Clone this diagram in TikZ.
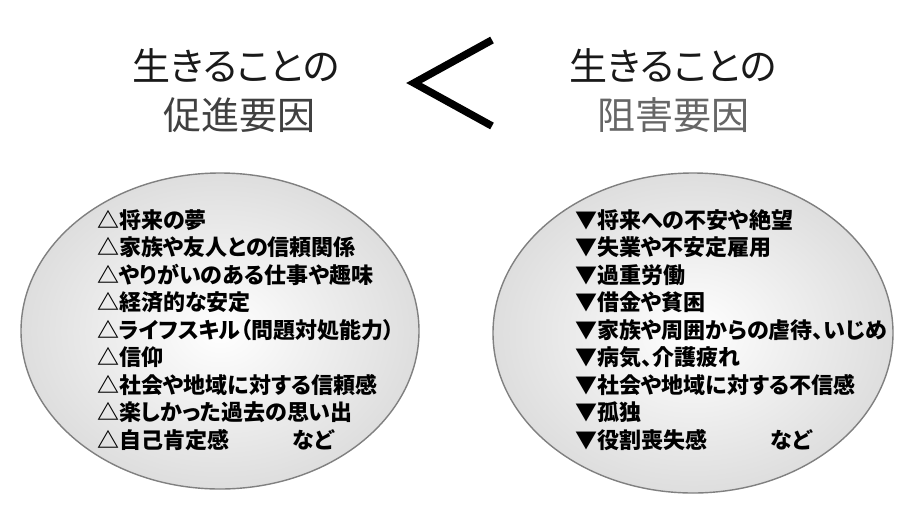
\documentclass[tikz,border=0pt]{standalone}
\usepackage{fontspec}
\newfontfamily\jpfont{Noto Sans CJK JP}[RawFeature=+palt]
\begin{document}
\begin{tikzpicture}[x=1pt,y=-1pt,
 heading/.style={font=\jpfont\fontsize{38}{38}\selectfont,inner sep=0pt},
 item/.style={font=\jpfont\bfseries\fontsize{22}{22}\selectfont,anchor=base west,inner sep=0pt},
 factor/.style={draw=black!50,line width=1.4pt,inner color=white,outer color=black!13}]
 \useasboundingbox (0,0) rectangle (922,515);
 \fill[white] (0,0) rectangle (922,515);
 % headings
 \node[heading,text=black!90] (promTitle) at (236,65) {生きることの};
 \node[heading,text=black!75] (promLabel) at (239,115) {促進要因};
 \node[heading,text=black!90] (inhTitle) at (673,65) {生きることの};
 \node[heading,text=black!60] (inhLabel) at (673,115) {阻害要因};
 \draw[line width=7.5pt] (492,40)--(414,83)--(492,126);
 % ellipses
 \shade[factor] (220,331) ellipse [x radius=199, y radius=158];
 \shade[factor] (693,333) ellipse [x radius=200, y radius=160];
 \foreach \t [count=\i] in {{△将来の夢},{△家族や友人との信頼関係},{△やりがいのある仕事や趣味},
   {△経済的な安定},{△ライフスキル（問題対処能力）},{△信仰},{△社会や地域に対する信頼感},
   {△楽しかった過去の思い出},{△自己肯定感\hspace{2.9em}など}}
  \node[item] (prom\i) at (97,{228+27.5*(\i-1)}) {\t};
 \foreach \t [count=\i] in {{▼将来への不安や絶望},{▼失業や不安定雇用},{▼過重労働},
   {▼借金や貧困},{▼家族や周囲からの虐待、いじめ},{▼病気、介護疲れ},{▼社会や地域に対する不信感},
   {▼孤独},{▼役割喪失感\hspace{2.9em}など}}
  \node[item] (inh\i) at (575,{228+27.5*(\i-1)}) {\t};
\end{tikzpicture}
\end{document}
